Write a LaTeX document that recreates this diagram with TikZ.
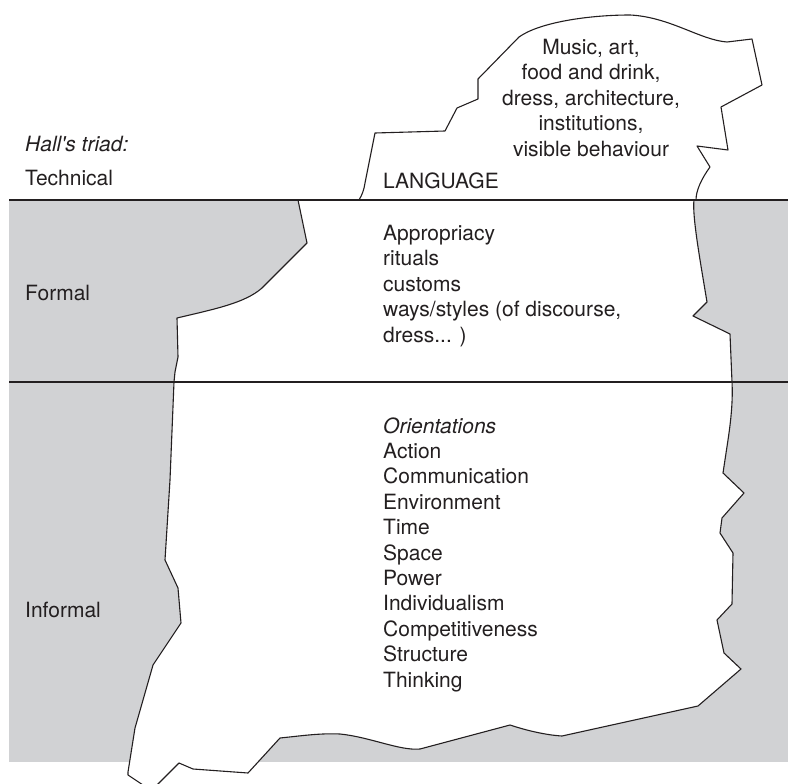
\documentclass[tikz,border=0pt]{standalone}
\usepackage{fontspec}
\setmainfont{TeX Gyre Heros}
\definecolor{ink}{HTML}{231F20}
\definecolor{seagray}{HTML}{D1D2D4}
\tikzset{
  txt/.style={inner sep=0pt, text=ink, font=\fontsize{21}{25.4}\selectfont},
  outline/.style={draw=ink, line width=1.1pt, line join=round},
  waterline/.style={draw=ink, line width=2.7pt}
}
\begin{document}
\begin{tikzpicture}[x=1pt,y=-1pt]
\useasboundingbox (0,0) rectangle (788,784);
\begin{scope}
\clip (0,0) rectangle (788,784);
\fill[seagray] (9,200) rectangle (788,762);
% submerged part
\path[fill=white, outline] (694,200) -- (298,200) -- (307,243) -- (262,288)
  .. controls (245,303) and (215,309) .. (177,318)
  -- (178,357) -- (175,372) -- (174,382) -- (170,480) -- (165,560) -- (178,588)
  -- (181,623) -- (153,665) -- (135,728) -- (128,772) -- (128,775) -- (146,787)
  -- (155,787) -- (179,763) -- (193,769) -- (248,773) -- (280,738)
  .. controls (300,736) and (320,733) .. (340,734)
  .. controls (370,737) and (400,751) .. (420,749)
  -- (510,725)
  .. controls (525,730) and (545,735) .. (562,736)
  -- (698,706) -- (741,669) -- (724,653) -- (717,620) -- (732,604) -- (733,553)
  -- (720,533) -- (722,518) -- (744,493) -- (723,473) -- (728,440)
  .. controls (731,420) and (733,400) .. (732,382)
  -- (730,334) -- (693,316) -- (707,302)
  .. controls (700,260) and (692,215) .. (694,200) -- cycle;
% visible part
\draw[outline] (359,200) .. controls (362,195) and (364,190) .. (365,183)
  -- (375,133) -- (445,131) -- (457,108) -- (478,99) -- (478,79) -- (519,37)
  .. controls (540,22) and (590,15) .. (630,15)
  .. controls (670,17) and (700,40) .. (727,42)
  -- (752,39) -- (762,85) -- (721,107) -- (728,150) -- (697,146) -- (710,167)
  .. controls (702,178) and (696,190) .. (696,200);
\end{scope}
\draw[waterline] (9,200) -- (788,200);
\draw[waterline] (9,382) -- (788,382);
% labels
\node[txt, anchor=base west] (hall) at (25,151) {\itshape Hall\textquotesingle s triad:};
\node[txt, anchor=base west] (tech) at (25,185) {Technical};
\node[txt, anchor=base west] (formal) at (25,300) {Formal};
\node[txt, anchor=base west] (informal) at (25,617) {Informal};
\node[txt, anchor=base west] (lang) at (383,188) {LANGUAGE};
\node[txt, align=center, anchor=base] (visible) at (591,156)
  {Music, art,\\food and drink,\\dress, architecture,\\institutions,\\visible behaviour};
\node[txt, align=left, anchor=base west] (formallist) at (383,342)
  {Appropriacy\\rituals\\customs\\ways/styles (of discourse,\\dress... )};
\node[txt, align=left, anchor=base west] (orient) at (383,687)
  {\itshape Orientations\\Action\\Communication\\Environment\\Time\\Space\\Power\\Individualism\\Competitiveness\\Structure\\Thinking};
\end{tikzpicture}
\end{document}
